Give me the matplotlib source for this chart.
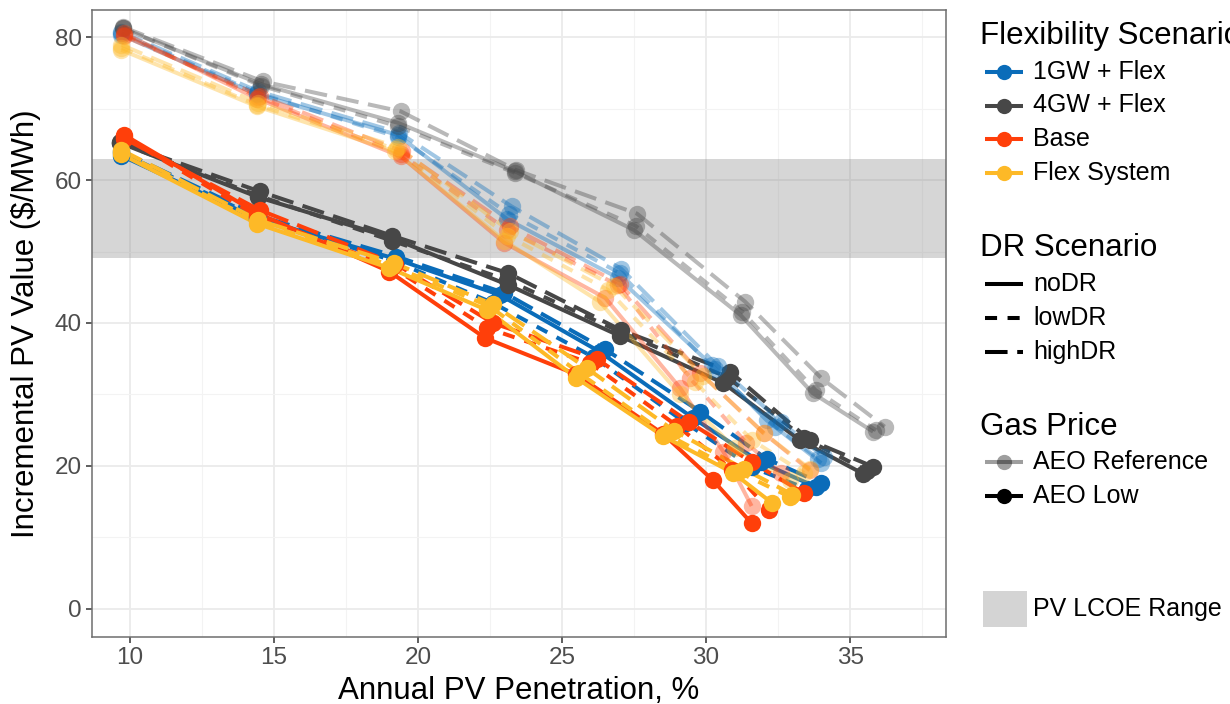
import matplotlib
matplotlib.use('Agg')
import matplotlib.pyplot as plt
from matplotlib.lines import Line2D
from matplotlib.patches import Rectangle
from matplotlib.ticker import MultipleLocator

plt.rcParams['font.family'] = ['Liberation Sans', 'DejaVu Sans']

# ---------------- data ----------------
flex_scenarios = ['1GW + Flex', '4GW + Flex', 'Base', 'Flex System']
dr_scenarios = ['noDR', 'lowDR', 'highDR']
gas_prices = ['AEO Reference', 'AEO Low']
lcoe_range = [49.1, 62.9]

# AEO Low gas price
x_1gw_low_nodr = [9.7, 14.4, 19.2, 22.85, 26.3, 29.55, 31.9, 33.8]
y_1gw_low_nodr = [63.4, 54.6, 49.0, 43.9, 36.0, 26.7, 20.5, 17.1]
x_1gw_low_lowdr = [9.7, 14.4, 19.15, 22.6, 26.1, 29.3, 31.6, 33.5]
y_1gw_low_lowdr = [63.8, 54.8, 48.7, 42.8, 35.2, 26.0, 19.8, 16.8]
x_1gw_low_highdr = [9.7, 14.45, 19.25, 23.0, 26.5, 29.8, 32.1, 34.0]
y_1gw_low_highdr = [64.0, 55.0, 49.3, 44.2, 36.3, 27.6, 21.0, 17.6]

x_4gw_low_nodr = [9.65, 14.45, 19.08, 23.14, 27.0, 30.6, 33.26, 35.46]
y_4gw_low_nodr = [65.2, 57.6, 51.9, 45.3, 38.2, 31.6, 23.6, 18.9]
x_4gw_low_lowdr = [9.65, 14.45, 19.1, 23.1, 27.0, 30.75, 33.4, 35.6]
y_4gw_low_lowdr = [65.2, 57.8, 51.5, 46.0, 38.8, 32.4, 23.9, 19.3]
x_4gw_low_highdr = [9.65, 14.5, 19.1, 23.14, 27.05, 30.83, 33.6, 35.8]
y_4gw_low_highdr = [65.3, 58.4, 52.2, 46.95, 39.0, 33.2, 23.6, 19.9]

x_base_low_nodr = [9.8, 14.4, 19.0, 22.33, 25.5, 28.5, 30.24, 31.58]
y_base_low_nodr = [66.3, 55.4, 47.2, 37.9, 32.8, 24.5, 18.0, 12.0]
x_base_low_lowdr = [9.8, 14.4, 19.1, 22.4, 25.97, 29.0, 30.9, 32.2]
y_base_low_lowdr = [66.0, 55.0, 47.8, 39.3, 34.4, 25.6, 19.5, 13.8]
x_base_low_highdr = [9.8, 14.5, 19.2, 22.6, 26.2, 29.39, 31.6, 33.4]
y_base_low_highdr = [65.8, 55.8, 48.3, 40.0, 35.0, 26.2, 20.5, 16.2]

x_flex_low_nodr = [9.7, 14.4, 19.0, 22.4, 25.5, 28.5, 30.95, 32.3]
y_flex_low_nodr = [63.6, 53.9, 47.7, 41.8, 32.3, 24.2, 19.0, 14.8]
x_flex_low_lowdr = [9.7, 14.4, 19.1, 22.5, 25.6, 28.6, 31.1, 32.9]
y_flex_low_lowdr = [63.9, 54.2, 48.0, 42.3, 33.0, 24.5, 19.2, 15.7]
x_flex_low_highdr = [9.7, 14.45, 19.15, 22.6, 25.85, 28.9, 31.3, 33.0]
y_flex_low_highdr = [64.2, 54.4, 48.4, 42.6, 33.7, 24.9, 19.6, 16.0]

# AEO Reference gas price
x_1gw_ref_nodr = [9.7, 14.4, 19.3, 23.1, 26.95, 30.2, 32.1, 34.0]
y_1gw_ref_nodr = [80.3, 72.0, 66.3, 54.5, 46.3, 34.1, 26.4, 20.4]
x_1gw_ref_lowdr = [9.7, 14.4, 19.3, 23.15, 27.0, 30.3, 32.4, 33.9]
y_1gw_ref_lowdr = [80.5, 72.2, 66.0, 55.3, 47.0, 33.5, 25.5, 21.0]
x_1gw_ref_highdr = [9.7, 14.45, 19.35, 23.25, 27.05, 30.4, 32.6, 34.1]
y_1gw_ref_highdr = [80.7, 72.4, 66.6, 56.3, 47.6, 34.0, 26.2, 21.2]

x_4gw_ref_nodr = [9.75, 14.55, 19.3, 23.37, 27.5, 31.2, 33.7, 35.8]
y_4gw_ref_nodr = [81.2, 73.4, 68.0, 61.2, 53.0, 41.1, 30.2, 24.8]
x_4gw_ref_lowdr = [9.75, 14.55, 19.3, 23.37, 27.55, 31.25, 33.8, 35.9]
y_4gw_ref_lowdr = [81.2, 73.2, 67.5, 61.0, 53.6, 41.6, 30.6, 25.0]
x_4gw_ref_highdr = [9.75, 14.6, 19.4, 23.4, 27.6, 31.35, 34.0, 36.2]
y_4gw_ref_highdr = [81.4, 73.8, 69.6, 61.4, 55.3, 43.0, 32.3, 25.5]

x_base_ref_nodr = [9.8, 14.4, 19.4, 23.0, 26.5, 29.1, 30.6, 31.58]
y_base_ref_nodr = [80.5, 71.4, 63.3, 51.2, 43.5, 30.9, 22.0, 14.4]
x_base_ref_lowdr = [9.8, 14.45, 19.4, 23.1, 26.95, 29.44, 31.4, 32.6]
y_base_ref_lowdr = [80.3, 71.6, 63.6, 53.0, 45.3, 32.3, 23.2, 19.0]
x_base_ref_highdr = [9.8, 14.5, 19.45, 23.2, 27.0, 29.8, 32.0, 33.6]
y_base_ref_highdr = [80.1, 71.8, 64.0, 53.5, 45.5, 33.0, 24.6, 19.4]

x_flex_ref_nodr = [9.7, 14.4, 19.2, 23.0, 26.3, 29.1, 31.0, 32.9]
y_flex_ref_nodr = [78.2, 70.3, 64.0, 51.5, 43.0, 30.0, 22.5, 18.0]
x_flex_ref_lowdr = [9.7, 14.4, 19.25, 23.1, 26.6, 29.6, 31.6, 33.4]
y_flex_ref_lowdr = [78.5, 70.5, 64.3, 52.2, 44.6, 31.8, 23.6, 19.0]
x_flex_ref_highdr = [9.7, 14.45, 19.3, 23.2, 26.8, 29.9, 32.0, 33.6]
y_flex_ref_highdr = [78.9, 70.8, 64.6, 52.8, 45.2, 32.6, 24.6, 19.6]

x_ticks = [10, 15, 20, 25, 30, 35]
y_ticks = [0, 20, 40, 60, 80]

# ---------------- table built from the arrays ----------------
series = [
    ('AEO Low', '1GW + Flex', 'noDR', x_1gw_low_nodr, y_1gw_low_nodr),
    ('AEO Low', '1GW + Flex', 'lowDR', x_1gw_low_lowdr, y_1gw_low_lowdr),
    ('AEO Low', '1GW + Flex', 'highDR', x_1gw_low_highdr, y_1gw_low_highdr),
    ('AEO Low', '4GW + Flex', 'noDR', x_4gw_low_nodr, y_4gw_low_nodr),
    ('AEO Low', '4GW + Flex', 'lowDR', x_4gw_low_lowdr, y_4gw_low_lowdr),
    ('AEO Low', '4GW + Flex', 'highDR', x_4gw_low_highdr, y_4gw_low_highdr),
    ('AEO Low', 'Base', 'noDR', x_base_low_nodr, y_base_low_nodr),
    ('AEO Low', 'Base', 'lowDR', x_base_low_lowdr, y_base_low_lowdr),
    ('AEO Low', 'Base', 'highDR', x_base_low_highdr, y_base_low_highdr),
    ('AEO Low', 'Flex System', 'noDR', x_flex_low_nodr, y_flex_low_nodr),
    ('AEO Low', 'Flex System', 'lowDR', x_flex_low_lowdr, y_flex_low_lowdr),
    ('AEO Low', 'Flex System', 'highDR', x_flex_low_highdr, y_flex_low_highdr),
    ('AEO Reference', '1GW + Flex', 'noDR', x_1gw_ref_nodr, y_1gw_ref_nodr),
    ('AEO Reference', '1GW + Flex', 'lowDR', x_1gw_ref_lowdr, y_1gw_ref_lowdr),
    ('AEO Reference', '1GW + Flex', 'highDR', x_1gw_ref_highdr, y_1gw_ref_highdr),
    ('AEO Reference', '4GW + Flex', 'noDR', x_4gw_ref_nodr, y_4gw_ref_nodr),
    ('AEO Reference', '4GW + Flex', 'lowDR', x_4gw_ref_lowdr, y_4gw_ref_lowdr),
    ('AEO Reference', '4GW + Flex', 'highDR', x_4gw_ref_highdr, y_4gw_ref_highdr),
    ('AEO Reference', 'Base', 'noDR', x_base_ref_nodr, y_base_ref_nodr),
    ('AEO Reference', 'Base', 'lowDR', x_base_ref_lowdr, y_base_ref_lowdr),
    ('AEO Reference', 'Base', 'highDR', x_base_ref_highdr, y_base_ref_highdr),
    ('AEO Reference', 'Flex System', 'noDR', x_flex_ref_nodr, y_flex_ref_nodr),
    ('AEO Reference', 'Flex System', 'lowDR', x_flex_ref_lowdr, y_flex_ref_lowdr),
    ('AEO Reference', 'Flex System', 'highDR', x_flex_ref_highdr, y_flex_ref_highdr),
]

# ---------------- styles ----------------
flex_colors = {'1GW + Flex': '#0A6CB9', '4GW + Flex': '#474747',
               'Base': '#FF3F0A', 'Flex System': '#FDB927'}
dr_dashes = {'noDR': None, 'lowDR': (3.0, 2.6), 'highDR': (5.6, 2.4)}
gas_alpha = {'AEO Reference': 0.38, 'AEO Low': 1.0}
LW = 2.9
MS = 12.5

W, H = 1230, 704
fig = plt.figure(figsize=(W / 100, H / 100), dpi=100)
ax = fig.add_axes([92 / W, 1 - 637 / H, (946 - 92) / W, (637 - 10) / H])
ax.set_xlim(8.68, 38.33)
ax.set_ylim(-3.92, 83.78)

# grid
ax.set_axisbelow(True)
ax.xaxis.set_minor_locator(MultipleLocator(2.5))
ax.yaxis.set_minor_locator(MultipleLocator(10))
ax.grid(which='major', color='#EBEBEB', lw=1.3, zorder=0)
ax.grid(which='minor', color='#F3F3F3', lw=0.8, zorder=0)
ax.tick_params(which='minor', length=0)

# LCOE band
ax.axhspan(lcoe_range[0], lcoe_range[1], facecolor='#808080', alpha=0.32, lw=0, zorder=1)

# lines: low gas first, reference on top
z = 2
for gas in ['AEO Low', 'AEO Reference']:
    for g, f, d, xs, ys in series:
        if g != gas:
            continue
        ln, = ax.plot(xs, ys, color=flex_colors[f], lw=LW, alpha=gas_alpha[g],
                      zorder=z, solid_capstyle='butt')
        if dr_dashes[d] is not None:
            ln.set_dashes(dr_dashes[d])
        z += 0.01
for gas in ['AEO Low', 'AEO Reference']:
    for g, f, d, xs, ys in series:
        if g != gas:
            continue
        ax.plot(xs, ys, ls='none', marker='o', ms=MS, mew=0,
                color=flex_colors[f], alpha=gas_alpha[g], zorder=z)
        z += 0.01

# axes styling
for s in ax.spines.values():
    s.set_color('#6E6E6E')
    s.set_linewidth(1.1)
ax.set_xticks(x_ticks)
ax.set_yticks(y_ticks)
ax.tick_params(which='major', direction='out', length=4.5, width=1.1, color='#333333',
               labelcolor='#4D4D4D', labelsize=17.5, pad=3)
ax.set_xlabel('Annual PV Penetration, %', fontsize=22.5, color='black', labelpad=5)
ax.set_ylabel('Incremental PV Value ($/MWh)', fontsize=22.5, color='black', labelpad=10)

# ---------------- legend (drawn manually) ----------------
def fx(px):
    return px / W

def fy(py):
    return 1 - py / H

TX, KX0, KX1, KXM = 980, 985, 1023, 1004
TITLE_FS, ITEM_FS = 22.5, 18

def title(text, y):
    fig.text(fx(TX), fy(y), text, fontsize=TITLE_FS, va='center', ha='left')

def item(text, y):
    fig.text(fx(1033), fy(y), text, fontsize=ITEM_FS, va='center', ha='left')

def key(y, color='black', dashes=None, marker=True, alpha=1.0):
    ln = Line2D([fx(KX0), fx(KX1)], [fy(y), fy(y)], transform=fig.transFigure,
                color=color, lw=LW, alpha=alpha, solid_capstyle='butt')
    if dashes is not None:
        ln.set_dashes(dashes)
    fig.add_artist(ln)
    if marker:
        fig.add_artist(Line2D([fx(KXM)], [fy(y)], transform=fig.transFigure, ls='none',
                              marker='o', ms=MS - 1.5, mew=0, color=color, alpha=alpha))

title('Flexibility Scenario', 36)
for lab, yy in zip(flex_scenarios, [72, 105.5, 139, 173]):
    key(yy, flex_colors[lab])
    item(lab, yy)

title('DR Scenario', 248)
for lab, yy in zip(dr_scenarios, [284, 318, 352]):
    key(yy, 'black', dashes=dr_dashes[lab], marker=False)
    item(lab, yy)

title('Gas Price', 427)
for lab, yy in zip(gas_prices, [462, 496]):
    key(yy, 'black', alpha=gas_alpha[lab])
    item(lab, yy)

fig.add_artist(Rectangle((fx(983), fy(627)), fx(1027) - fx(983), fy(591) - fy(627),
                         transform=fig.transFigure, facecolor='#D4D4D4', lw=0))
item('PV LCOE Range', 609)

fig.savefig('out.png', dpi=100)
